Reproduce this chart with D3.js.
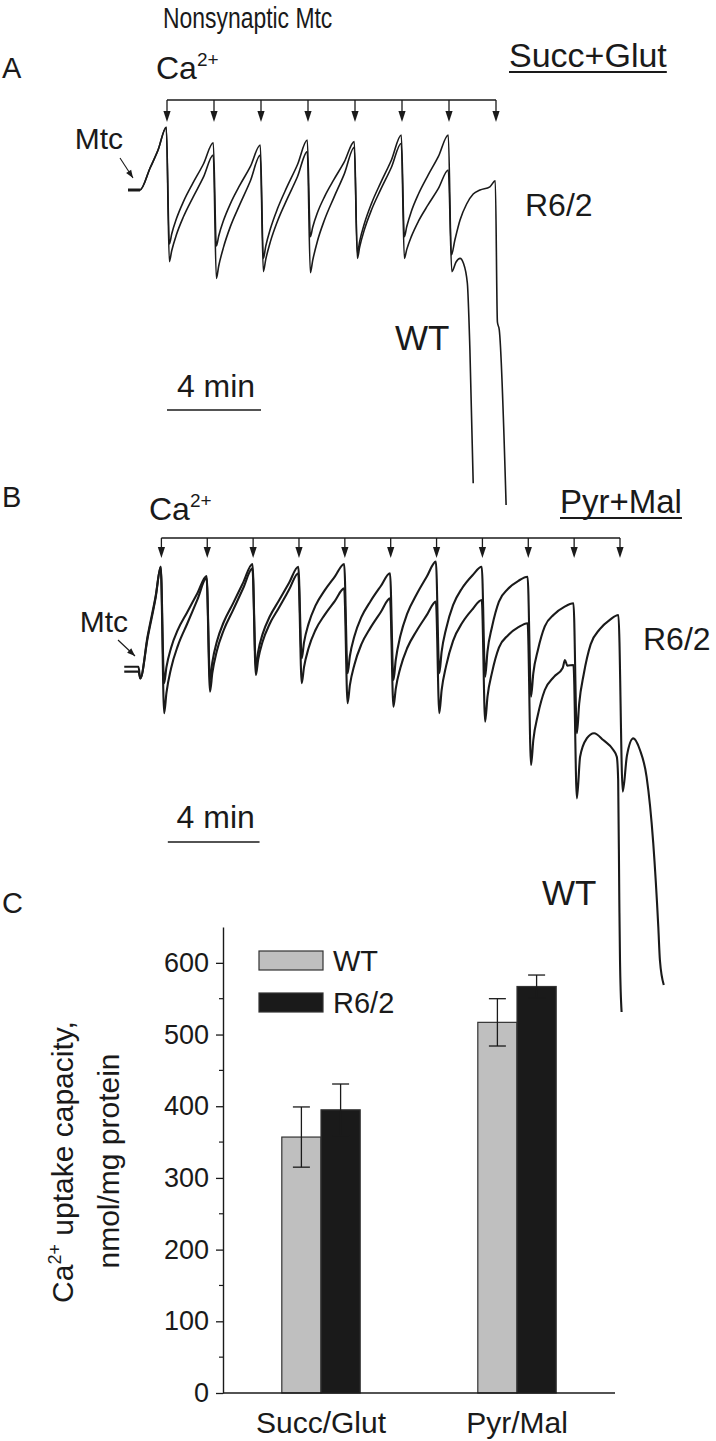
<!DOCTYPE html>
<html>
<head>
<meta charset="utf-8">
<script src="https://cdnjs.cloudflare.com/ajax/libs/d3/7.8.5/d3.min.js"></script>
<style>
  body { margin: 0; background: #fff; }
  text { font-family: "Liberation Sans", Arial, sans-serif; fill: #1a1a1a; }
</style>
</head>
<body>
<div id="figure"></div>
<script>
// ---------- Panel A: nonsynaptic Mtc, Succ+Glut ----------
// time in min (0 = first Ca2+ pulse), signal in arbitrary units
const pulsesA = [0, 2, 4, 6, 8, 10, 12, 14];
const r62TraceA = [
  [-1.66, 82.5], [-1.15, 82.5], [-0.72, 88], [-0.38, 92.5], [-0.03, 98.2],
  [0.1, 69], [0.2, 71.5], [0.4, 75.3], [0.7, 79.6], [1.1, 84.2], [1.55, 89], [1.97, 94.3],
  [2.1, 68.5], [2.2, 71.0], [2.4, 74.8], [2.7, 79.1], [3.1, 83.7], [3.55, 88.4], [3.97, 93.75],
  [4.1, 65.4], [4.2, 68.4], [4.4, 72.8], [4.7, 77.8], [5.1, 83.2], [5.55, 88.8], [5.97, 95],
  [6.1, 70.8], [6.2, 73.2], [6.4, 76.8], [6.7, 80.8], [7.1, 85.1], [7.55, 89.6], [7.97, 94.6],
  [8.1, 66.7], [8.2, 69.7], [8.4, 74.1], [8.7, 79.1], [9.1, 84.4], [9.55, 90.0], [9.97, 96.25],
  [10.1, 70.8], [10.2, 73.3], [10.4, 77.2], [10.7, 81.5], [11.1, 86.1], [11.55, 90.9], [11.97, 96.25],
  [12.1, 66.25], [12.25, 70], [12.47, 75], [12.75, 79], [13.03, 81.5], [13.32, 82.5], [13.74, 83.3], [13.97, 84.8],
  [14.06, 49.5], [14.14, 47.5], [14.43, 3.75]
];
const wtTraceA = [
  [-1.66, 82.5], [-1.15, 82.5], [-0.72, 88], [-0.38, 92.5], [-0.03, 98.2],
  [0.1, 64.6], [0.2, 67.3], [0.4, 71.3], [0.7, 75.8], [1.1, 80.6], [1.55, 85.7], [1.97, 91.25],
  [2.1, 60.4], [2.2, 63.5], [2.4, 68.1], [2.7, 73.4], [3.1, 78.9], [3.55, 84.8], [3.97, 91.25],
  [4.1, 62.1], [4.2, 65.1], [4.4, 69.6], [4.7, 74.7], [5.1, 80.1], [5.55, 85.8], [5.97, 92.1],
  [6.1, 61.8], [6.2, 64.9], [6.4, 69.7], [6.7, 75.0], [7.1, 80.6], [7.55, 86.6], [7.97, 93.2],
  [8.1, 65.4], [8.2, 68.3], [8.4, 72.6], [8.7, 77.5], [9.1, 82.7], [9.55, 88.2], [9.97, 94.2],
  [10.1, 65.4], [10.2, 67.6], [10.4, 70.9], [10.7, 74.7], [11.1, 78.7], [11.55, 82.9], [11.97, 87.5],
  [12.12, 62.1], [12.3, 64.5], [12.47, 65.4], [12.61, 64.25], [12.78, 59.25], [12.89, 42.5], [13.03, 9.2]
];

// ---------- Panel B: Pyr+Mal ----------
const pulsesB = [0, 2, 4, 6, 8, 10, 12, 14, 16, 18, 20];
const r62TraceB = [
  [-1.62, 88.3], [-1.0, 88.3], [-0.92, 85.4], [-0.6, 96], [-0.25, 106], [-0.03, 113.3],
  [0.12, 84.2], [0.22, 88.2], [0.42, 93.0], [0.72, 97.6], [1.12, 101.9], [1.57, 106.7], [1.97, 111],
  [2.12, 85], [2.22, 89.4], [2.42, 94.6], [2.72, 99.5], [3.12, 104.1], [3.57, 109.4], [3.97, 114],
  [4.12, 88.3], [4.22, 92.1], [4.42, 96.6], [4.72, 100.8], [5.12, 104.8], [5.57, 109.3], [5.97, 113.3],
  [6.12, 90.4], [6.22, 94.4], [6.42, 99.1], [6.72, 103.6], [7.12, 107.4], [7.57, 110.9], [7.97, 114],
  [8.12, 86.7], [8.22, 91.0], [8.42, 96.0], [8.72, 100.7], [9.12, 104.7], [9.57, 108.5], [9.97, 111.7],
  [10.12, 85], [10.22, 90.0], [10.42, 96.0], [10.72, 101.6], [11.12, 106.3], [11.57, 110.8], [11.97, 114.6],
  [12.12, 86.7], [12.22, 92.0], [12.42, 97.9], [12.72, 103.7], [13.12, 108.0], [13.57, 111.2], [13.97, 113.3],
  [14.12, 85.8], [14.22, 92.1], [14.42, 98.3], [14.72, 104.6], [15.12, 107.8], [15.57, 109.8], [15.97, 110.8],
  [16.12, 80.8], [16.22, 86.7], [16.42, 92.5], [16.72, 98.4], [17.12, 101.4], [17.57, 103.3], [17.97, 104.2],
  [18.12, 71.7], [18.22, 79.1], [18.42, 86.5], [18.72, 93.9], [19.12, 97.7], [19.57, 100.1], [19.93, 101.25],
  [20.12, 57.1], [20.3, 66], [20.58, 70.4], [20.87, 67.5], [21.16, 60.8], [21.45, 44.2], [21.67, 23.3], [21.74, 15], [21.91, 8.75]
];
const wtTraceB = [
  [-1.62, 87.1], [-1.0, 87.1], [-0.92, 85.4], [-0.6, 95.5], [-0.25, 105.6], [-0.03, 113.3],
  [0.12, 76.7], [0.22, 81.8], [0.42, 87.9], [0.72, 93.6], [1.12, 99.0], [1.57, 105.1], [1.97, 110.5],
  [2.12, 82.1], [2.22, 86.7], [2.42, 92.3], [2.72, 97.5], [3.12, 102.4], [3.57, 108], [3.97, 112.9],
  [4.12, 86.25], [4.22, 90.1], [4.42, 94.7], [4.72, 99.0], [5.12, 103.0], [5.57, 107.6], [5.97, 111.7],
  [6.12, 84.2], [6.22, 88.2], [6.42, 93.0], [6.72, 97.5], [7.12, 101.3], [7.57, 104.8], [7.97, 107.9],
  [8.12, 79.2], [8.22, 83.7], [8.42, 88.9], [8.72, 93.9], [9.12, 98.1], [9.57, 102.0], [9.97, 105.4],
  [10.12, 78.3], [10.22, 82.8], [10.42, 88.0], [10.72, 93.0], [11.12, 97.2], [11.57, 101.2], [11.97, 104.6],
  [12.12, 76.7], [12.22, 82.4], [12.42, 88.6], [12.72, 94.8], [13.12, 99.3], [13.57, 102.7], [13.97, 105],
  [14.12, 74.6], [14.22, 80.8], [14.42, 86.9], [14.72, 93.1], [15.12, 96.2], [15.57, 98.2], [15.97, 99.2],
  [16.12, 63.75], [16.22, 70.0], [16.42, 76.3], [16.72, 82.5], [17.12, 85.8], [17.5, 88.0], [17.6, 90], [17.7, 88.6], [17.97, 88.75],
  [18.12, 55.4], [18.26, 65.8], [18.55, 70.4], [18.87, 71.7], [19.27, 70], [19.71, 67.5], [19.86, 65.8],
  [19.92, 60], [19.97, 30], [20.0, 15], [20.07, 2]
];

// ---------- Panel C: Ca2+ uptake capacity ----------
const substrates = ["Succ/Glut", "Pyr/Mal"];
const genotypes = ["WT", "R6/2"];
const wtMean = [357, 517];
const wtErr = [42, 33];
const r62Mean = [395, 567];
const r62Err = [36, 16];
const yTicks = [0, 100, 200, 300, 400, 500, 600];
const yMinorTicks = [50, 150, 250, 350, 450, 550];

const W = 716, H = 1441;
const ink = "#1a1a1a";
const svg = d3.select("#figure").append("svg")
  .attr("width", W).attr("height", H);

// scales
const xA = d3.scaleLinear().domain([0, 14]).range([167, 496]);
const yA = d3.scaleLinear().domain([0, 100]).range([520, 120]);
const xB = d3.scaleLinear().domain([0, 20]).range([161.4, 620]);
const yB = d3.scaleLinear().domain([0, 100]).range([1020, 620]);

function drawTrace(data, x, y, width) {
  const line = d3.line()
    .x(d => x(d[0]))
    .y(d => y(d[1]))
    .curve(d3.curveMonotoneX);
  svg.append("path")
    .datum(data)
    .attr("d", line)
    .attr("fill", "none")
    .attr("stroke", ink)
    .attr("stroke-width", width)
    .attr("stroke-linejoin", "round");
}

// bracket with arrows pointing at each Ca2+ addition
function drawPulses(times, x, yTop, yTip) {
  const g = svg.append("g");
  g.append("line")
    .attr("x1", x(times[0])).attr("x2", x(times[times.length - 1]))
    .attr("y1", yTop).attr("y2", yTop)
    .attr("stroke", ink).attr("stroke-width", 1.3);
  g.selectAll(".stem").data(times).enter().append("line")
    .attr("x1", d => x(d)).attr("x2", d => x(d))
    .attr("y1", yTop).attr("y2", yTip - 8)
    .attr("stroke", ink).attr("stroke-width", 1.3);
  g.selectAll(".head").data(times).enter().append("path")
    .attr("d", d => `M${x(d) - 3.6},${yTip - 11}L${x(d) + 3.6},${yTip - 11}L${x(d)},${yTip}Z`)
    .attr("fill", ink);
}

function drawScaleBar(x, t0, minutes, yBar, yText) {
  svg.append("line")
    .attr("x1", x(t0)).attr("x2", x(t0 + minutes))
    .attr("y1", yBar).attr("y2", yBar)
    .attr("stroke", ink).attr("stroke-width", 1.5);
  svg.append("text")
    .attr("x", (x(t0) + x(t0 + minutes)) / 2 + 2).attr("y", yText)
    .attr("text-anchor", "middle")
    .style("font-size", "32px")
    .text(`${minutes} min`);
}

function caLabel(xPos, yPos) {
  const t = svg.append("text").attr("x", xPos).attr("y", yPos).style("font-size", "32px");
  t.append("tspan").text("Ca");
  t.append("tspan").attr("dy", -13).style("font-size", "19px").text("2+");
}

function mtcLabel(xRight, yBase, ax1, ay1, ax2, ay2) {
  svg.append("text")
    .attr("x", xRight).attr("y", yBase)
    .attr("text-anchor", "end")
    .style("font-size", "30px")
    .text("Mtc");
  svg.append("line")
    .attr("x1", ax1).attr("y1", ay1).attr("x2", ax2).attr("y2", ay2)
    .attr("stroke", ink).attr("stroke-width", 1.1);
  const ang = Math.atan2(ay2 - ay1, ax2 - ax1);
  const L = 8, Wd = 3;
  const bx = ax2 - L * Math.cos(ang), by = ay2 - L * Math.sin(ang);
  svg.append("path")
    .attr("d", `M${ax2},${ay2}L${bx - Wd * Math.sin(ang)},${by + Wd * Math.cos(ang)}L${bx + Wd * Math.sin(ang)},${by - Wd * Math.cos(ang)}Z`)
    .attr("fill", ink);
}

function underlined(txt, xPos, yPos, size) {
  const t = svg.append("text").attr("x", xPos).attr("y", yPos)
    .style("font-size", size + "px").text(txt);
  const w = t.node().getComputedTextLength();
  svg.append("line")
    .attr("x1", xPos).attr("x2", xPos + w)
    .attr("y1", yPos + 5).attr("y2", yPos + 5)
    .attr("stroke", ink).attr("stroke-width", 2);
}

function plainText(txt, xPos, yPos, size, anchor) {
  svg.append("text").attr("x", xPos).attr("y", yPos)
    .attr("text-anchor", anchor || "start")
    .style("font-size", size + "px").text(txt);
}

// ---------- Panel A ----------
// title is set in a narrower face in the original
svg.append("text")
  .attr("transform", "translate(163,28) scale(0.79,1)")
  .style("font-size", "29px")
  .text("Nonsynaptic Mtc");
plainText("A", 2, 78, 29);
caLabel(156, 79);
underlined("Succ+Glut", 509, 67, 34);
drawPulses(pulsesA, xA, 100, 122);
drawTrace(wtTraceA, xA, yA, 1.6);
drawTrace(r62TraceA, xA, yA, 1.6);
svg.append("line") // thick Mtc baseline segment
  .attr("x1", xA(-1.66)).attr("x2", xA(-1.15))
  .attr("y1", yA(82.5)).attr("y2", yA(82.5))
  .attr("stroke", ink).attr("stroke-width", 3);
mtcLabel(123, 149, 120, 158, 133, 178);
plainText("R6/2", 525, 216, 32);
plainText("WT", 395, 350, 35);
drawScaleBar(xA, 0, 4, 410, 397);

// ---------- Panel B ----------
plainText("B", 2, 507, 29);
caLabel(149, 520);
underlined("Pyr+Mal", 560, 513, 33);
drawPulses(pulsesB, xB, 538, 558);
drawTrace(wtTraceB, xB, yB, 2.1);
drawTrace(r62TraceB, xB, yB, 2.1);
mtcLabel(128, 632, 118, 640, 135, 656);
plainText("R6/2", 643, 650, 32);
plainText("WT", 542, 905, 35);
drawScaleBar(xB, 0.28, 4, 842, 828);

// ---------- Panel C ----------
plainText("C", 2, 913, 29);

const xC = d3.scaleBand().domain(substrates).range([223, 615])
  .paddingInner(0.6).paddingOuter(0.3);
const xSub = d3.scaleBand().domain(genotypes).range([0, xC.bandwidth()]);
const yC = d3.scaleLinear().domain([0, 650]).range([1393, 927]);
const fills = { "WT": "#bfbfbf", "R6/2": "#1a1a1a" };

const bars = [];
substrates.forEach((s, i) => {
  bars.push({ s, g: "WT", v: wtMean[i], e: wtErr[i] });
  bars.push({ s, g: "R6/2", v: r62Mean[i], e: r62Err[i] });
});

const gC = svg.append("g");
gC.selectAll(".bar").data(bars).enter().append("rect")
  .attr("x", d => xC(d.s) + xSub(d.g))
  .attr("y", d => yC(d.v))
  .attr("width", xSub.bandwidth())
  .attr("height", d => yC(0) - yC(d.v))
  .attr("fill", d => fills[d.g])
  .attr("stroke", "#333")
  .attr("stroke-width", 1.2);

// error bars
const cap = 8.5;
bars.forEach(d => {
  const cx = xC(d.s) + xSub(d.g) + xSub.bandwidth() / 2;
  const eg = gC.append("g").attr("stroke", ink).attr("stroke-width", 1.3);
  eg.append("line").attr("x1", cx).attr("x2", cx).attr("y1", yC(d.v - d.e)).attr("y2", yC(d.v + d.e));
  eg.append("line").attr("x1", cx - cap).attr("x2", cx + cap).attr("y1", yC(d.v + d.e)).attr("y2", yC(d.v + d.e));
  eg.append("line").attr("x1", cx - cap).attr("x2", cx + cap).attr("y1", yC(d.v - d.e)).attr("y2", yC(d.v - d.e));
});

// y axis
const yAxis = gC.append("g")
  .attr("transform", "translate(223,0)")
  .call(d3.axisLeft(yC).tickValues(yTicks).tickSize(7).tickSizeOuter(0).tickPadding(7));
yAxis.select(".domain").attr("stroke", ink).attr("stroke-width", 1.4);
yAxis.selectAll(".tick line").attr("stroke", ink).attr("stroke-width", 1.3);
yAxis.selectAll(".tick text")
  .style("font-size", "27px")
  .style("font-family", "'Liberation Sans', Arial, sans-serif")
  .attr("fill", ink);
gC.selectAll(".minor").data(yMinorTicks).enter().append("line")
  .attr("x1", 219).attr("x2", 223)
  .attr("y1", d => yC(d)).attr("y2", d => yC(d))
  .attr("stroke", ink).attr("stroke-width", 1.2);

// x axis baseline
gC.append("line")
  .attr("x1", 223).attr("x2", 615)
  .attr("y1", yC(0)).attr("y2", yC(0))
  .attr("stroke", ink).attr("stroke-width", 1.4);

gC.selectAll(".cat").data(substrates).enter().append("text")
  .attr("x", d => xC(d) + xC.bandwidth() / 2)
  .attr("y", 1433)
  .attr("text-anchor", "middle")
  .style("font-size", "30px")
  .text(d => d);

// legend
genotypes.forEach((g, i) => {
  const y0 = 951 + i * 42;
  gC.append("rect")
    .attr("x", 259).attr("y", y0).attr("width", 64).attr("height", 19)
    .attr("fill", fills[g]).attr("stroke", "#333").attr("stroke-width", 1.2);
  gC.append("text")
    .attr("x", 333).attr("y", y0 + 20)
    .style("font-size", "29px")
    .text(g);
});

// y label (two lines, rotated)
const yl = gC.append("text")
  .attr("transform", "translate(73,1162) rotate(-90)")
  .attr("text-anchor", "middle")
  .style("font-size", "30px");
yl.append("tspan").text("Ca");
yl.append("tspan").attr("dy", -12).style("font-size", "18px").text("2+");
yl.append("tspan").attr("dy", 12).text(" uptake capacity,");
gC.append("text")
  .attr("transform", "translate(119,1161) rotate(-90)")
  .attr("text-anchor", "middle")
  .style("font-size", "30px")
  .text("nmol/mg protein");
</script>
</body>
</html>
